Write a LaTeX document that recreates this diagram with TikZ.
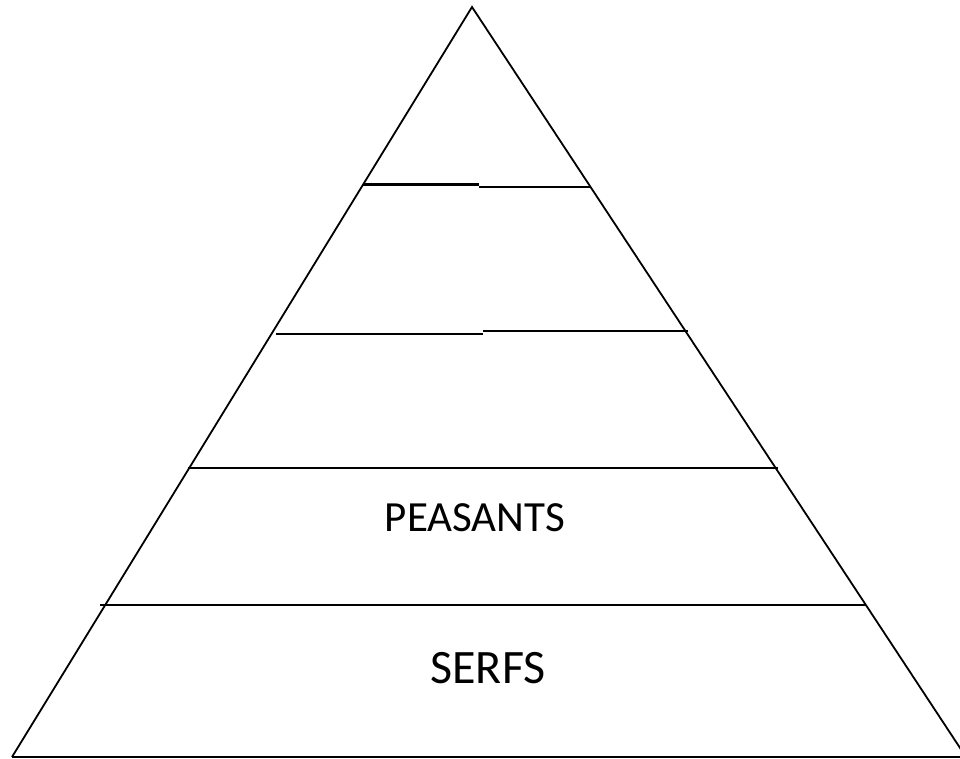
\documentclass[tikz,border=0pt]{standalone}
\usepackage{fontspec}
\setmainfont{Carlito}
\begin{document}
\begin{tikzpicture}[x=1pt,y=-1pt,
  edge/.style={line width=1.8pt,black},
  tier/.style={line width=2.6pt,black},
  label/.style={font=\fontsize{43}{46}\selectfont, inner sep=0pt, anchor=center}]
\useasboundingbox (0,0) rectangle (960,759);
\coordinate (apex) at (472,7);
\coordinate (bl) at (12,757);
\coordinate (br) at (966,757);
\draw[edge] (bl) -- (apex) -- (br);
\draw[tier] (bl) -- (br);
% tier lines
\coordinate (a1) at (363,184.7); \coordinate (a2) at (479,184.7);
\coordinate (a3) at (479,187); \coordinate (a4) at (590,187);
\draw[tier] (a1) -- (a2); \draw[tier] (a3) -- (a4);
\coordinate (b1) at (276,334); \coordinate (b2) at (483,334);
\coordinate (b3) at (483,331); \coordinate (b4) at (688,331);
\draw[tier] (b1) -- (b2); \draw[tier] (b3) -- (b4);
\coordinate (c1) at (188,468); \coordinate (c2) at (778,468);
\draw[tier] (c1) -- (c2);
\coordinate (d1) at (100,605); \coordinate (d2) at (866,605);
\draw[tier] (d1) -- (d2);
\node[label] (peasants) at (475,518) {PEASANTS};
\node[label,font=\fontsize{48}{52}\selectfont] (serfs) at (488,668) {SERFS};
\end{tikzpicture}
\end{document}
